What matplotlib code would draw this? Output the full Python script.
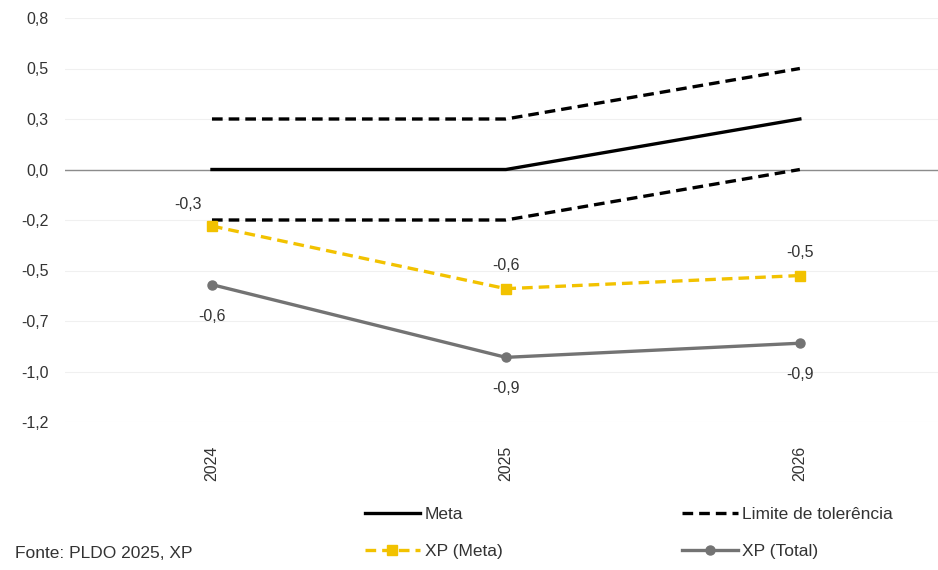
import matplotlib.pyplot as plt
import numpy as np

# Dados
anos = ["2024", "2025", "2026"]
meta = [0.0, 0.0, 0.25]
limite_sup = [0.25, 0.25, 0.5]
limite_inf = [-0.25, -0.25, 0.0]
xp_meta = [-0.28, -0.59, -0.525]
xp_total = [-0.57, -0.93, -0.86]
yticks = [0.75, 0.5, 0.25, 0.0, -0.25, -0.5, -0.75, -1.0, -1.25]
yticklabels = ["0,8", "0,5", "0,3", "0,0", "-0,2", "-0,5", "-0,7", "-1,0", "-1,2"]

plt.rcParams['font.family'] = ['Liberation Sans', 'DejaVu Sans']

amarelo = "#F2C200"
cinza = "#737373"

fig = plt.figure(figsize=(9.38, 5.70), dpi=100)
ax = fig.add_axes([65/938, 1 - 422/570, 873/938, 404/570])
x = np.arange(len(anos))

# grade e eixo zero
for t in yticks:
    ax.axhline(t, color="#F0F0F0", lw=0.8, zorder=0)
ax.axhline(0, color="#8C8C8C", lw=1.0, zorder=1)

ax.plot(x, meta, color="black", lw=2.4, label="Meta", zorder=3)
ax.plot(x, limite_sup, color="black", lw=2.4, dashes=(3.2, 1.8), label="Limite de tolerência", zorder=3)
ax.plot(x, limite_inf, color="black", lw=2.4, dashes=(3.2, 1.8), zorder=3)
ax.plot(x, xp_meta, color=amarelo, lw=2.4, dashes=(3.2, 1.8), marker="s", ms=7,
        label="XP (Meta)", zorder=4)
ax.plot(x, xp_total, color=cinza, lw=2.4, marker="o", ms=6.5, label="XP (Total)", zorder=4)

def fmt(v):
    return f"{v:.1f}".replace(".", ",")

# rótulos
offs_meta = [(-24, 14), (0, 16), (0, 16)]
for i, v in enumerate(xp_meta):
    ax.annotate(fmt(v), (x[i], v), xytext=offs_meta[i], textcoords="offset pixels",
                ha="center", va="bottom", fontsize=11.5, color="#333333")
for i, v in enumerate(xp_total):
    ax.annotate(fmt(v), (x[i], v), xytext=(0, -24), textcoords="offset pixels",
                ha="center", va="top", fontsize=11.5, color="#333333")

ax.set_xlim(-0.5, 2.47)
ax.set_ylim(-1.25, 0.75)
ax.set_yticks(yticks)
ax.set_yticklabels(yticklabels)
ax.set_xticks(x)
ax.set_xticklabels(anos, rotation=90)
ax.tick_params(axis="both", length=0, labelsize=11.5, labelcolor="#333333")
ax.tick_params(axis="x", pad=17)
ax.tick_params(axis="y", pad=12)
for s in ax.spines.values():
    s.set_visible(False)

handles, labels = ax.get_legend_handles_labels()
order = [0, 2, 1, 3]
fig.legend([handles[i] for i in order], [labels[i] for i in order], ncol=2,
           loc="lower left", bbox_to_anchor=(349/938, -5/570), frameon=False,
           fontsize=12.5, handlelength=3.2, handletextpad=0.25, columnspacing=10.35,
           labelspacing=1.27, labelcolor="#333333")

fig.text(15/938, 1 - 553/570, "Fonte: PLDO 2025, XP", fontsize=12.5, color="#333333", va="center")

fig.savefig("out.png", dpi=100)
